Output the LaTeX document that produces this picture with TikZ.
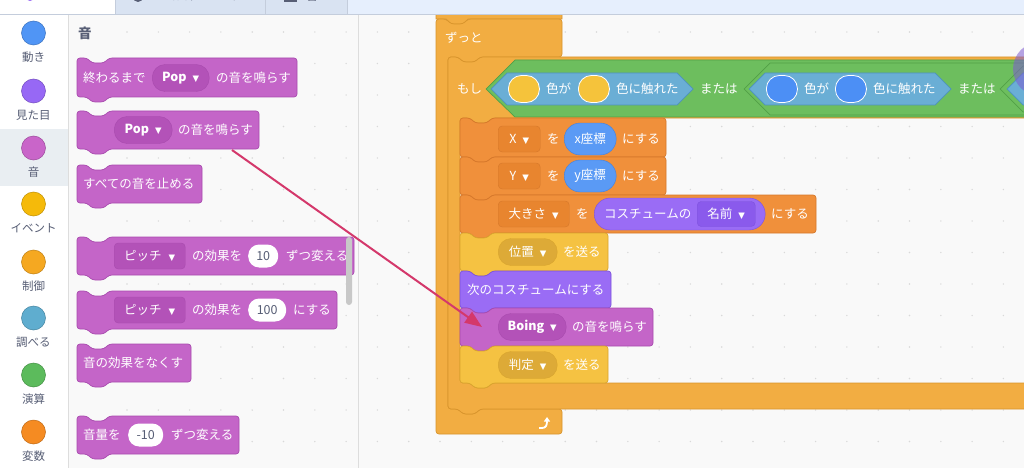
\documentclass[tikz,border=0pt]{standalone}
\usepackage{fontspec}
\setmainfont{Noto Sans CJK JP}
\newfontfamily\symfont{DejaVu Sans}
\usetikzlibrary{arrows.meta}

% colori
\definecolor{labelgray}{HTML}{575E75}
\definecolor{areabg}{HTML}{F9F9F9}
\definecolor{catsel}{HTML}{E9EEF2}
\definecolor{bordergray}{HTML}{DDDDDD}
\definecolor{dotgray}{HTML}{D9D9D9}
\definecolor{tabbg}{HTML}{D9E3F2}
\definecolor{tabline}{HTML}{C4CDDC}
\definecolor{topbg}{HTML}{E6EFFD}
\definecolor{scrollgray}{HTML}{C8C8C8}
\definecolor{sndfill}{HTML}{C465C8}
\definecolor{sndline}{HTML}{A84BAE}
\definecolor{sndpill}{HTML}{B352B8}
\definecolor{lookfill}{HTML}{9A6CF5}
\definecolor{lookline}{HTML}{7D52DC}
\definecolor{lookmenu}{HTML}{8A5AEC}
\definecolor{evtfill}{HTML}{F5C242}
\definecolor{evtline}{HTML}{D9A52E}
\definecolor{evtpill}{HTML}{DDAA37}
\definecolor{ctrlfill}{HTML}{F2AD42}
\definecolor{ctrlline}{HTML}{D8942C}
\definecolor{datafill}{HTML}{F0903B}
\definecolor{dataline}{HTML}{D6782B}
\definecolor{datamenu}{HTML}{E8852F}
\definecolor{opfill}{HTML}{6DBE5E}
\definecolor{opline}{HTML}{52A046}
\definecolor{sensfill}{HTML}{6AAED5}
\definecolor{sensline}{HTML}{4E92BC}
\definecolor{motionpill}{HTML}{5A9AF5}
\definecolor{motionline}{HTML}{4380DC}
\definecolor{swyellow}{HTML}{F5C33B}
\definecolor{swblue}{HTML}{4C8FF5}
\definecolor{arrowred}{HTML}{D4386B}
\definecolor{cursorpurple}{HTML}{7E5BD0}

\newcommand{\dd}{{\symfont\fontsize{8.5}{8}\selectfont ▼}}

\newcommand{\stackblk}[5]{% stile, sinistra, alto, destra, basso
  \draw[#1,rounded corners=3pt] (#2,#3) -- ({#2+10},#3) -- ({#2+15},{#3+5}) -- ({#2+27},{#3+5}) -- ({#2+32},#3) -- (#4,#3) -- (#4,#5)
    -- ({#2+32},#5) -- ({#2+27},{#5+5}) -- ({#2+15},{#5+5}) -- ({#2+10},#5) -- (#2,#5) -- cycle;}

\begin{document}
\begin{tikzpicture}[x=1pt,y=-1pt,
    txt/.style={anchor=west,inner sep=0pt,text=white,font=\fontsize{12.5}{14}\selectfont},
    lbl/.style={inner sep=0pt,text=labelgray,font=\fontsize{11.5}{13}\selectfont},
    pill/.style={anchor=west,inner sep=0pt,rounded corners=13pt,minimum height=27pt,text=white,font=\fontsize{12.5}{14}\selectfont},
    menu/.style={anchor=west,inner sep=0pt,rounded corners=4pt,minimum height=26pt,text=white,font=\fontsize{12.5}{14}\selectfont},
    slot/.style={anchor=west,inner sep=0pt,rounded corners=11pt,minimum height=23pt,fill=white,text=labelgray,font=\fontsize{12.5}{14}\selectfont},
    swatch/.style={anchor=west,inner sep=0pt,rounded corners=13pt,minimum width=31pt,minimum height=27pt,draw=white,line width=0.8pt},
    sound/.style={fill=sndfill,draw=sndline,line width=0.7pt},
    looks/.style={fill=lookfill,draw=lookline,line width=0.7pt},
    event/.style={fill=evtfill,draw=evtline,line width=0.7pt},
    ctrl/.style={fill=ctrlfill,draw=ctrlline,line width=0.7pt},
    data/.style={fill=datafill,draw=dataline,line width=0.7pt},
    oper/.style={fill=opfill,draw=opline,line width=0.7pt},
    sens/.style={fill=sensfill,draw=sensline,line width=0.7pt}]

    \useasboundingbox (0,0) rectangle (1024,468);

    % Sfondi
    \fill[white] (0,0) rectangle (68,468);
    \fill[catsel] (0,129) rectangle (67.5,186);
    \fill[areabg] (68,14) rectangle (1024,468);
    \foreach \i in {0,...,28} {
        \foreach \j in {0,...,13} {
            \fill[dotgray] ({127+31.3*\i},{32+31.5*\j}) circle (0.8pt);
        }
    }
    \draw[bordergray] (68,14) -- (68,468);
    \draw[bordergray] (358.5,14) -- (358.5,468);

    % Categorie
    \foreach \cy/\cname/\cfill [count=\k] in {33/動き/4C97FF, 91/見た目/9966FF, 148/音/CF63CF, 204/イベント/FFBF00,
        262/制御/FFAB19, 318/調べる/5CB1D6, 375/演算/59C059, 432/変数/FF8C1A} {
        \definecolor{catc}{HTML}{\cfill}
        \node[circle,minimum size=24pt,inner sep=0pt,fill=catc!92!gray,draw=catc!75!black,line width=0.5pt] (cat\k) at (33.5,\cy) {};
        \node[lbl] (catlbl\k) at (33.5,{\cy+24}) {\cname};
    }

    % Palette
    \node[anchor=west,inner sep=0pt,text=labelgray,font=\fontsize{13.5}{14}\selectfont\bfseries] (paltitle) at (78,33) {音};

    \stackblk{sound}{77}{58}{297}{97}
    \node[txt] (untildone) at (83,78) {終わるまで};
    \node[pill,fill=sndpill,draw=sndline,minimum width=57pt] (poppill1) at (152,78) {\bfseries Pop\hspace{6pt}\dd};
    \node[txt] (untildone2) at (216,78) {の音を鳴らす};

    \stackblk{sound}{77}{111}{259}{149}
    \node[pill,fill=sndpill,draw=sndline,minimum width=58pt] (poppill2) at (114,130) {\bfseries Pop\hspace{6pt}\dd};
    \node[txt] (startsound) at (178,130) {の音を鳴らす};

    \stackblk{sound}{77}{165}{202}{203}
    \node[txt] (stopall) at (83,184) {すべての音を止める};

    \stackblk{sound}{77}{237}{354}{275}
    \node[menu,fill=sndpill,draw=sndline,minimum width=71pt] (pitch1) at (114,256) {ピッチ\hspace{7pt}\dd};
    \node[txt] (effect1) at (192,256) {の効果を};
    \node[slot,minimum width=30pt] (slot10) at (248,256) {10};
    \node[txt] (changeby1) at (286,256) {ずつ変える};

    \stackblk{sound}{77}{291}{337}{329}
    \node[menu,fill=sndpill,draw=sndline,minimum width=71pt] (pitch2) at (114,310) {ピッチ\hspace{7pt}\dd};
    \node[txt] (effect2) at (192,310) {の効果を};
    \node[slot,minimum width=38pt] (slot100) at (248,310) {100};
    \node[txt] (setto) at (293,310) {にする};

    \stackblk{sound}{77}{344}{191}{382}
    \node[txt] (cleareff) at (83,363) {音の効果をなくす};

    \stackblk{sound}{77}{416}{239}{454}
    \node[txt] (volume) at (83,435) {音量を};
    \node[slot,minimum width=35pt] (slotm10) at (128,435) {-10};
    \node[txt] (changeby2) at (171,435) {ずつ変える};

    \fill[scrollgray,rounded corners=3pt] (346,237) rectangle (352,305);

    % Script
    \draw[ctrl] (436,-5) -- (562,-5) -- (562,19) -- (468,19) -- (463,24) -- (451,24) -- (446,19) -- (436,19) -- cycle;
    \draw[ctrl,rounded corners=3pt] (436,19) -- (446,19) -- (451,24) -- (463,24) -- (468,19) -- (562,19) -- (562,57)
        -- (480,57) -- (475,62) -- (463,62) -- (458,57) -- (448,57) -- (448,409) -- (458,409) -- (463,414)
        -- (475,414) -- (480,409) -- (562,409) -- (562,434) -- (436,434) -- cycle;
    \node[txt] (forever) at (445,38) {ずっと};
    \draw[white,line width=1.8pt,-{Triangle[length=4.5pt,width=6pt]}] (539,428) -- (542,428) .. controls (546,428) and (547,425) .. (547,417);

    \draw[ctrl,rounded corners=3pt] (448,57) -- (458,57) -- (463,62) -- (475,62) -- (480,57) -- (1040,57) -- (1040,118)
        -- (492,118) -- (487,123) -- (475,123) -- (470,118) -- (460,118) -- (460,383) -- (470,383) -- (475,388)
        -- (487,388) -- (492,383) -- (1040,383) -- (1040,409) -- (480,409) -- (475,414) -- (463,414) -- (458,409)
        -- (448,409) -- cycle;
    \node[txt] (ifthen) at (457,89) {もし};

    % Condizione
    \draw[oper] (486,89) -- (515,60) -- (1040,60) -- (1040,117) -- (515,117) -- cycle;
    \draw[sens] (491,89) -- (507,73) -- (677,73) -- (693,89) -- (677,105) -- (507,105) -- cycle;
    \node[swatch,fill=swyellow] (sw1) at (508,89) {};
    \node[txt] (colorA) at (546,89) {色が};
    \node[swatch,fill=swyellow] (sw2) at (578,89) {};
    \node[txt] (touchA) at (616,89) {色に触れた};
    \node[txt] (orA) at (700,89) {または};
    \draw[oper] (744,89) -- (770,63) -- (1040,63) -- (1040,115) -- (770,115) -- cycle;
    \draw[sens] (749,89) -- (765,73) -- (935,73) -- (951,89) -- (935,105) -- (765,105) -- cycle;
    \node[swatch,fill=swblue] (sw3) at (766,89) {};
    \node[txt] (colorB) at (804,89) {色が};
    \node[swatch,fill=swblue] (sw4) at (835,89) {};
    \node[txt] (touchB) at (873,89) {色に触れた};
    \node[txt] (orB) at (958,89) {または};
    \draw[oper] (1000,89) -- (1023,66) -- (1040,66) -- (1040,112) -- (1023,112) -- cycle;
    \draw[sens] (1007,89) -- (1023,73) -- (1040,73) -- (1040,105) -- (1023,105) -- cycle;

    % Blocchi interni
    \stackblk{data}{460}{118}{666}{157}
    \node[menu,fill=datamenu,draw=dataline,minimum width=42pt] (varX) at (498,139) {X\hspace{6pt}\dd};
    \node[txt] (woA) at (547,139) {を};
    \node[pill,fill=motionpill,draw=motionline,minimum width=52pt,minimum height=32pt,rounded corners=16pt] (xpos) at (564,139) {x座標};
    \node[txt] (setA) at (622,139) {にする};

    \stackblk{data}{460}{157}{666}{195}
    \node[menu,fill=datamenu,draw=dataline,minimum width=42pt] (varY) at (498,176) {Y\hspace{6pt}\dd};
    \node[txt] (woB) at (547,176) {を};
    \node[pill,fill=motionpill,draw=motionline,minimum width=52pt,minimum height=32pt,rounded corners=16pt] (ypos) at (564,176) {y座標};
    \node[txt] (setB) at (622,176) {にする};

    \stackblk{data}{460}{195}{816}{233}
    \node[menu,fill=datamenu,draw=dataline,minimum width=71pt] (varsize) at (498,214) {大きさ\hspace{6pt}\dd};
    \node[txt] (woC) at (576,214) {を};
    \node[pill,fill=lookfill,draw=lookline,minimum width=171pt,minimum height=32pt,rounded corners=16pt] (costume) at (594,214) {};
    \node[txt] (costumeof) at (604,214) {コスチュームの};
    \node[menu,fill=lookmenu,draw=lookline,minimum width=58pt,minimum height=25pt] (costname) at (697,214) {名前\hspace{6pt}\dd};
    \node[txt] (setC) at (771,214) {にする};

    \stackblk{event}{460}{233}{608}{271}
    \node[pill,fill=evtpill,draw=evtline,minimum width=59pt] (msgpos) at (498,252) {位置\hspace{6pt}\dd};
    \node[txt] (sendA) at (563,252) {を送る};

    \stackblk{looks}{460}{271}{611}{308}
    \node[txt] (nextcostume) at (467,290) {次のコスチュームにする};

    \stackblk{sound}{460}{308}{653}{346}
    \node[pill,fill=sndpill,draw=sndline,minimum width=68pt] (boing) at (498,327) {\bfseries Boing\hspace{6pt}\dd};
    \node[txt] (playB) at (572,327) {の音を鳴らす};

    \stackblk{event}{460}{346}{608}{383}
    \node[pill,fill=evtpill,draw=evtline,minimum width=59pt] (msgjudge) at (498,365) {判定\hspace{6pt}\dd};
    \node[txt] (sendB) at (563,365) {を送る};

    \fill[cursorpurple,opacity=0.55] (1040,69) circle (27pt);

    % Barra superiore
    \fill[white] (0,0) rectangle (115,14);
    \fill[tabbg] (115,0) rectangle (347,14);
    \fill[topbg] (347,0) rectangle (1024,14);
    \fill[lookfill] (30,-3) circle (4pt);
    \fill[labelgray] (138,-3) circle (5pt);
    \fill[labelgray] (284,-6) rectangle (297,2);
    \node[text=labelgray,inner sep=0pt,font=\fontsize{12}{12}\selectfont] (tabcostume) at (200,-4) {コスチューム};
    \node[text=labelgray,inner sep=0pt,font=\fontsize{12}{12}\selectfont] (tabsound) at (312,-4) {音};
    \draw[tabline] (115,0) -- (115,14);
    \draw[tabline] (265.5,0) -- (265.5,14);
    \draw[tabline] (347,0) -- (347,14);
    \draw[tabline] (0,14.5) -- (1024,14.5);

    % Freccia
    \coordinate (arrowfrom) at (232,150);
    \coordinate (arrowto) at (482,327);
    \draw[arrowred,line width=2pt,-{Triangle[length=17pt,width=13pt]}] (arrowfrom) -- (arrowto);

\end{tikzpicture}
\end{document}
